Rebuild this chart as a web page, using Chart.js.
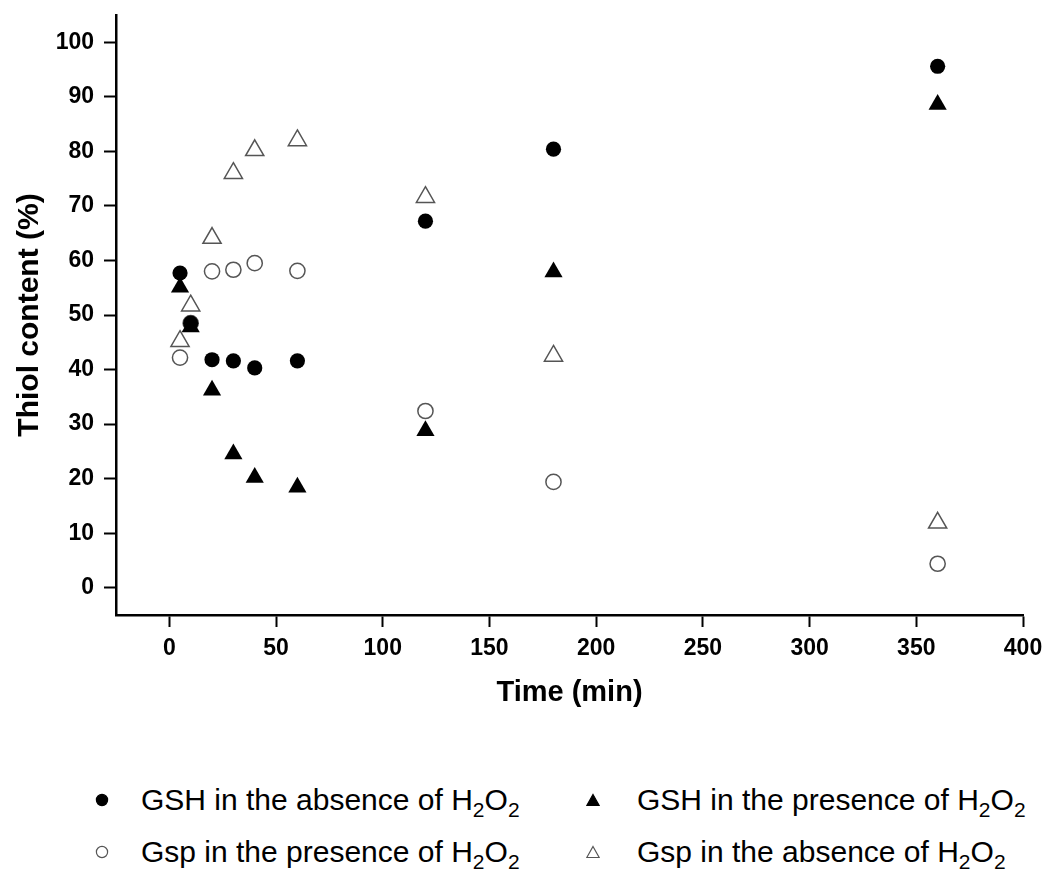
<!DOCTYPE html>
<html>
<head>
<meta charset="utf-8">
<title>Thiol content vs time</title>
<script src="https://cdn.jsdelivr.net/npm/chart.js@4.4.1/dist/chart.umd.min.js"></script>
<style>
  html, body { margin: 0; padding: 0; background: #fff; }
  #wrap { position: relative; width: 1045px; height: 870px; overflow: hidden;
          font-family: "Liberation Sans", Arial, sans-serif; }
  #chart-box { position: absolute; left: 0; top: 0; width: 1045px; height: 720px; }
  .leg-item { position: absolute; height: 36px; line-height: 36px; font-size: 30px;
              color: #000; white-space: nowrap; }
  .leg-item svg { position: absolute; top: 11px; }
  .leg-item sub { font-size: 70%; vertical-align: -0.35em; line-height: 0; }
</style>
</head>
<body>
<div id="wrap">
  <div id="chart-box"><canvas id="thiol"></canvas></div>
  <div id="legend"></div>
</div>
<script>
// Thiol content (%) vs time (min), four scatter series, no lines.

var TIME_MIN    = [5, 10, 20, 30, 40, 60, 120, 180, 360];
var GSH_ABSENT  = [57.7, 48.5, 41.8, 41.6, 40.3, 41.6, 67.2, 80.4, 95.6];
var GSH_PRESENT = [55.1, 47.8, 36.2, 24.5, 20.2, 18.4, 28.8, 57.9, 88.6];
var GSP_PRESENT = [42.2, 48.5, 58.0, 58.3, 59.5, 58.1, 32.4, 19.4, 4.4];
var GSP_ABSENT  = [45.2, 51.7, 64.1, 76.0, 80.2, 82.0, 71.6, 42.5, 11.9];

var X_TICKS = [0, 50, 100, 150, 200, 250, 300, 350, 400];
var Y_TICKS = [0, 10, 20, 30, 40, 50, 60, 70, 80, 90, 100];

var LABEL_GSH_ABSENT  = "GSH in the absence of H<sub>2</sub>O<sub>2</sub>";
var LABEL_GSH_PRESENT = "GSH in the presence of H<sub>2</sub>O<sub>2</sub>";
var LABEL_GSP_PRESENT = "Gsp in the presence of H<sub>2</sub>O<sub>2</sub>";
var LABEL_GSP_ABSENT  = "Gsp in the absence of H<sub>2</sub>O<sub>2</sub>";

function _points(ys) {
  return TIME_MIN.map(function(t, i) { return { x: t, y: ys[i] }; });
}

// first entry is drawn on top
var SERIES = [
  { label: LABEL_GSP_ABSENT,  data: GSP_ABSENT,  shape: "triangle", filled: false, row: 1, col: 1 },
  { label: LABEL_GSH_PRESENT, data: GSH_PRESENT, shape: "triangle", filled: true,  row: 0, col: 1 },
  { label: LABEL_GSH_ABSENT,  data: GSH_ABSENT,  shape: "circle",   filled: true,  row: 0, col: 0 },
  { label: LABEL_GSP_PRESENT, data: GSP_PRESENT, shape: "circle",   filled: false, row: 1, col: 0 },
];

var datasets = SERIES.map(function(s) {
  var tri = s.shape === "triangle";
  return {
    label: s.label,
    data: _points(s.data),
    pointStyle: s.shape,
    pointRadius: tri ? 10.5 : 7.6,
    pointBackgroundColor: s.filled ? "#000" : "#fff",
    pointBorderColor: s.filled ? "#000" : "#555",
    pointBorderWidth: s.filled ? 0 : 1.5,
    showLine: false,
  };
});

// drop the label overhang padding so layout.padding alone sets the plot box
function _noScalePadding(scale) {
  scale.paddingTop = 0;
  scale.paddingBottom = 0;
  scale.paddingLeft = 0;
  scale.paddingRight = 0;
}

Chart.defaults.font.family = '"Liberation Sans", Arial, sans-serif';
Chart.defaults.color = "#000";

new Chart(document.getElementById("thiol"), {
  type: "scatter",
  data: { datasets: datasets },
  options: {
    responsive: true,
    maintainAspectRatio: false,
    animation: false,
    layout: { padding: { top: 15, right: 22, bottom: 0, left: 0 } },
    plugins: { legend: { display: false }, tooltip: { enabled: false } },
    scales: {
      x: {
        type: "linear",
        position: "bottom",
        min: -25,
        max: 400,
        afterBuildTicks: function(scale) {
          scale.ticks = X_TICKS.map(function(v) { return { value: v }; });
        },
        afterFit: function(scale) { scale.height = 105; _noScalePadding(scale); },
        ticks: { font: { size: 23, weight: "bold" }, padding: 8, maxRotation: 0 },
        grid: { drawOnChartArea: false, drawTicks: true, tickLength: 12,
                tickWidth: 2, tickColor: "#000" },
        border: { display: true, color: "#000", width: 2.5 },
        title: { display: true, text: "Time (min)",
                 font: { size: 29, weight: "bold" }, padding: { top: 0, bottom: 10 } },
      },
      y: {
        type: "linear",
        min: -5,
        max: 105,
        afterBuildTicks: function(scale) {
          scale.ticks = Y_TICKS.map(function(v) { return { value: v }; });
        },
        afterFit: function(scale) { scale.width = 116; _noScalePadding(scale); },
        ticks: { font: { size: 23, weight: "bold" }, padding: 10 },
        grid: { drawOnChartArea: false, drawTicks: true, tickLength: 12,
                tickWidth: 2, tickColor: "#000" },
        border: { display: true, color: "#000", width: 2.5 },
        title: { display: true, text: "Thiol content (%)",
                 font: { size: 30, weight: "bold" }, padding: { top: 12, bottom: 0 } },
      },
    },
  },
});

// Legend below the plot, two columns, real text with subscripts
var LEG_TEXT_X = [141, 637];
var LEG_MARK_X = [102, 593];
var LEG_ROW_Y  = [782, 834];

function _markerSvg(shape, filled, left) {
  var fill = filled ? "#000" : "#fff";
  var stroke = filled ? "#000" : "#555";
  var inner = shape === "circle"
    ? '<circle cx="7" cy="7" r="5.6" fill="' + fill + '" stroke="' + stroke + '" stroke-width="1.2"/>'
    : '<polygon points="7,1.5 13.2,12.5 0.8,12.5" fill="' + fill + '" stroke="' + stroke + '" stroke-width="1.2"/>';
  return '<svg width="14" height="14" style="left:' + left + 'px">' + inner + '</svg>';
}

var legend = document.getElementById("legend");
SERIES.forEach(function(s) {
  var item = document.createElement("div");
  var markLeft = LEG_MARK_X[s.col] - 7 - LEG_TEXT_X[s.col];
  item.className = "leg-item";
  item.style.left = LEG_TEXT_X[s.col] + "px";
  item.style.top  = LEG_ROW_Y[s.row] + "px";
  item.innerHTML = _markerSvg(s.shape, s.filled, markLeft) + '<span>' + s.label + '</span>';
  legend.appendChild(item);
});
</script>
</body>
</html>
